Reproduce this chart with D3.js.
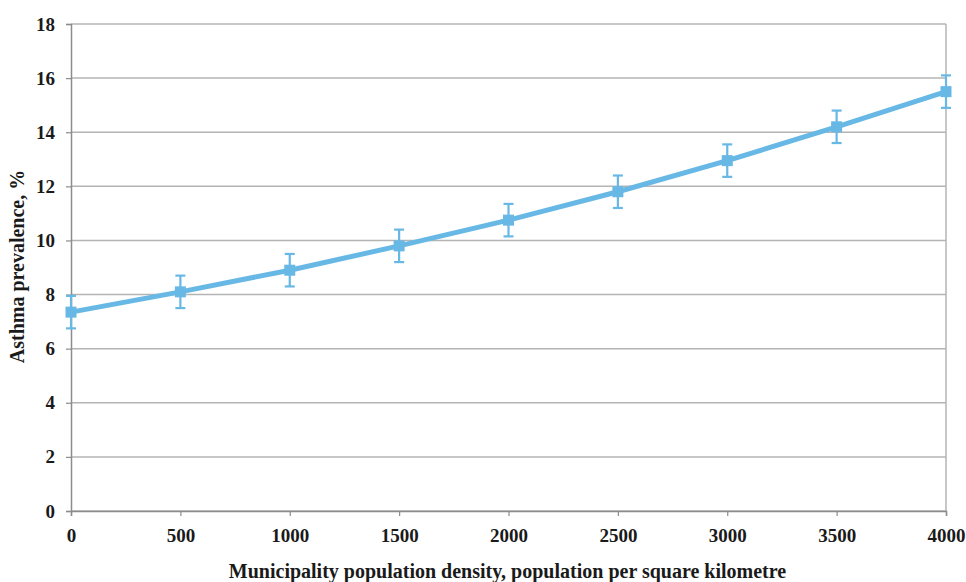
<!DOCTYPE html>
<html>
<head>
<meta charset="utf-8">
<script src="https://cdn.jsdelivr.net/npm/d3@7"></script>
<style>
  body { margin: 0; background: #fff; }
  svg { display: block; font-family: "Liberation Serif", "Times New Roman", serif; font-weight: bold; }
</style>
</head>
<body>
<div id="chart"></div>
<script>
const densities = [0, 500, 1000, 1500, 2000, 2500, 3000, 3500, 4000];
const prevalence = [7.35, 8.1, 8.9, 9.8, 10.75, 11.8, 12.95, 14.2, 15.5];
const errorMargin = [0.6, 0.6, 0.6, 0.6, 0.6, 0.6, 0.6, 0.6, 0.6];
const xTicks = [0, 500, 1000, 1500, 2000, 2500, 3000, 3500, 4000];
const yTicks = [0, 2, 4, 6, 8, 10, 12, 14, 16, 18];

const xTitle = "Municipality population density, population per square kilometre";
const yTitle = "Asthma prevalence, %";

function renderChart() {
    const width = 966, height = 582;
    const margin = { top: 24, right: 20, bottom: 71, left: 71 };
    const innerW = width - margin.left - margin.right;
    const innerH = height - margin.top - margin.bottom;
    const blue = "#68b8e6";

    const svg = d3.select("#chart").append("svg")
        .attr("width", width)
        .attr("height", height);

    const g = svg.append("g")
        .attr("transform", `translate(${margin.left},${margin.top})`);

    const x = d3.scaleLinear().domain([0, 4000]).range([0, innerW]);
    const y = d3.scaleLinear().domain([0, 18]).range([innerH, 0]);

    // horizontal gridlines
    g.selectAll(".grid")
        .data(yTicks)
        .enter().append("line")
        .attr("x1", 0).attr("x2", innerW)
        .attr("y1", d => y(d)).attr("y2", d => y(d))
        .attr("stroke", "#b4b4b4")
        .attr("stroke-width", 1.5);

    // right border
    g.append("line")
        .attr("x1", innerW).attr("x2", innerW)
        .attr("y1", 0).attr("y2", innerH)
        .attr("stroke", "#b4b4b4")
        .attr("stroke-width", 1.5);

    // y axis
    const yAxis = g.append("g")
        .call(d3.axisLeft(y).tickValues(yTicks).tickSize(5).tickPadding(11).tickFormat(d3.format("d")));
    // x axis
    const xAxis = g.append("g")
        .attr("transform", `translate(0,${innerH})`)
        .call(d3.axisBottom(x).tickValues(xTicks).tickSize(5).tickPadding(13).tickFormat(d3.format("d")));

    [xAxis, yAxis].forEach(a => {
        a.select(".domain").attr("stroke", "#8c8c8c").attr("stroke-width", 1.5);
        a.selectAll(".tick line").attr("stroke", "#8c8c8c").attr("stroke-width", 1.2);
        a.selectAll("text")
            .attr("fill", "#1a1a1a")
            .style("font-family", "'Liberation Serif', 'Times New Roman', serif")
            .style("font-weight", "bold")
            .style("font-size", "19px");
    });

    const pts = densities.map((d, i) => ({ x: d, y: prevalence[i], e: errorMargin[i] }));

    // error bars
    const eb = g.selectAll(".err").data(pts).enter().append("g").attr("class", "err");
    eb.append("line")
        .attr("x1", d => x(d.x)).attr("x2", d => x(d.x))
        .attr("y1", d => y(d.y - d.e)).attr("y2", d => y(d.y + d.e))
        .attr("stroke", blue).attr("stroke-width", 2.2);
    [-1, 1].forEach(s => {
        eb.append("line")
            .attr("x1", d => x(d.x) - 5).attr("x2", d => x(d.x) + 5)
            .attr("y1", d => y(d.y + s * d.e)).attr("y2", d => y(d.y + s * d.e))
            .attr("stroke", blue).attr("stroke-width", 2.2);
    });

    // line
    const line = d3.line().x(d => x(d.x)).y(d => y(d.y));
    g.append("path")
        .datum(pts)
        .attr("d", line)
        .attr("fill", "none")
        .attr("stroke", blue)
        .attr("stroke-width", 5);

    // markers
    g.selectAll(".mk").data(pts).enter().append("rect")
        .attr("x", d => x(d.x) - 5.5)
        .attr("y", d => y(d.y) - 5.5)
        .attr("width", 11).attr("height", 11)
        .attr("fill", blue);

    // titles
    svg.append("text")
        .attr("x", margin.left + innerW / 2 - 1)
        .attr("y", 578)
        .attr("text-anchor", "middle")
        .style("font-size", "20px")
        .attr("fill", "#1a1a1a")
        .text(xTitle);

    svg.append("text")
        .attr("transform", `translate(24,${margin.top + innerH / 2 - 1}) rotate(-90)`)
        .attr("text-anchor", "middle")
        .style("font-size", "20px")
        .attr("fill", "#1a1a1a")
        .text(yTitle);
}

renderChart();
</script>
</body>
</html>
